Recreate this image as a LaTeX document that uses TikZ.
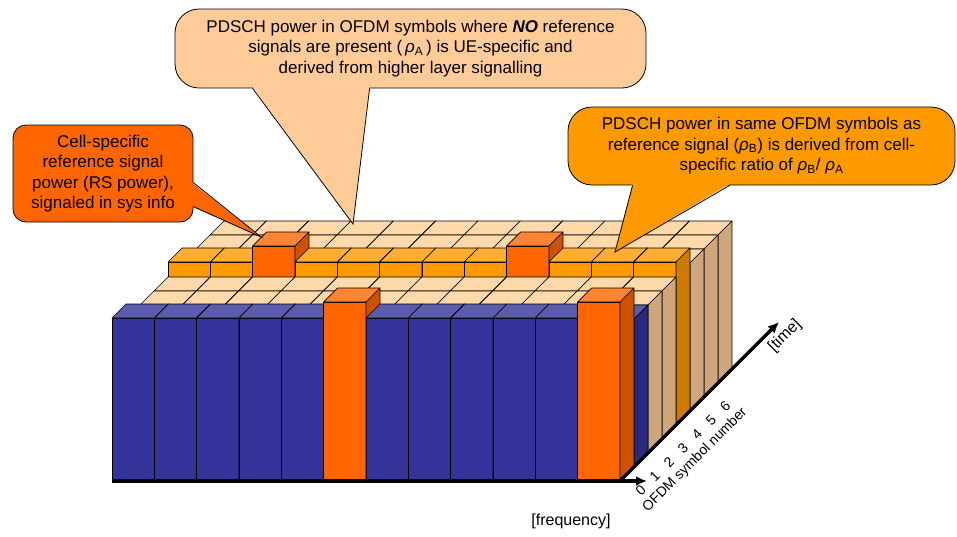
\documentclass[tikz,border=0pt]{standalone}
\usepackage{fontspec}
\setmainfont{Liberation Sans}
\usepackage{xcolor}
\usepackage{tikz}
\usetikzlibrary{arrows.meta,calc}

\definecolor{navyfront}{HTML}{333399}
\definecolor{navytop}{HTML}{5C5CAD}
\definecolor{navyside}{HTML}{2A2A7D}
\definecolor{amberfront}{HTML}{FF9900}
\definecolor{ambertop}{HTML}{FFAD33}
\definecolor{amberside}{HTML}{CC7A00}
\definecolor{rsfront}{HTML}{FF6600}
\definecolor{rstop}{HTML}{FF8533}
\definecolor{rsside}{HTML}{CC5200}
\definecolor{peachfront}{HTML}{E8BE8E}
\definecolor{peachtop}{HTML}{FFD9AA}
\definecolor{peachside}{HTML}{CFA67B}
\definecolor{notefill}{HTML}{FFCC99}

\newcommand{\rhosub}[1]{{\itshape ρ}\textsubscript{#1}}

\newcommand{\barcell}[4]{%
  \pgfmathsetmacro{\cellx}{112+42.33*#1+14*#2}%
  \pgfmathsetmacro{\celly}{481-14*#2}%
  \filldraw[facet, fill=#4front] (\cellx,\celly) rectangle ++(42.33,-#3);
  \filldraw[facet, fill=#4top] (\cellx,\celly-#3) -- ++(42.33,0) -- ++(14,-14) -- ++(-42.33,0) -- cycle;
  \filldraw[facet, fill=#4side] (\cellx+42.33,\celly) -- ++(0,-#3) -- ++(14,-14) -- ++(0,#3) -- cycle;
}

\begin{document}
\begin{tikzpicture}[
  x=1pt, y=-1pt,
  font=\fontsize{17}{20.5}\selectfont,
  facet/.style={draw=black, line width=0.6pt, line join=round},
  note/.style={draw=black, line width=0.8pt, align=center, inner sep=0pt},
  tail/.style={draw=black, line width=0.8pt},
  axis/.style={line width=3.5pt, -{Latex[length=11pt,width=10pt]}},
  symlabel/.style={font=\fontsize{14}{14}\selectfont, rotate=45, inner sep=0pt}
]
\useasboundingbox (0,0) rectangle (957,536);

\foreach \row/\kind/\h/\rsa/\rsb in {7/peach/148/-1/-1, 6/peach/148/-1/-1, 5/peach/148/-1/-1, 4/amber/163/2/8,
    3/peach/148/-1/-1, 2/peach/148/-1/-1, 1/navy/148/-1/-1, 0/navy/163/5/11}
  \foreach \col in {0,...,11} {
    \ifnum\col=\rsa\relax \barcell{\col}{\row}{179}{rs}%
    \else\ifnum\col=\rsb\relax \barcell{\col}{\row}{179}{rs}%
    \else \barcell{\col}{\row}{\h}{\kind}\fi\fi
  }

\coordinate (freqstart) at (112,481);
\coordinate (freqend) at (647,481);
\coordinate (timestart) at (620,481);
\coordinate (timeend) at (779,322);
\draw[axis] (freqstart) -- (freqend);
\draw[axis] (timestart) -- (timeend);

\foreach \k in {0,...,6}
  \node[symlabel] (sym\k) at (640.6+14.1*\k, 490.4-14*\k) {\k};
\node[symlabel] (symaxis) at (695,460) {OFDM symbol number};
\node[font=\fontsize{16}{16}\selectfont, rotate=45, inner sep=0pt] (timelabel) at (785,336) {[time]};
\node[font=\fontsize{16}{16}\selectfont, inner sep=0pt] (freqlabel) at (571,521) {[frequency]};

\node[note, fill=rsfront, minimum width=180pt, minimum height=97pt, rounded corners=13pt] (rsnote) at (103,173.5)
  {Cell-specific\\reference signal\\power (RS power),\\signaled in sys info};
\coordinate (rstip) at (261,237);
\fill[rsfront] ($(rsnote.north east)+(-1.5,58)$) -- (rstip) -- ($(rsnote.north east)+(-1.5,82)$) -- cycle;
\draw[tail] ($(rsnote.north east)+(0,58)$) -- (rstip) -- ($(rsnote.north east)+(0,82)$);

\node[note, fill=notefill, minimum width=471pt, minimum height=79pt, rounded corners=24pt] (nonote) at (410.5,48.5)
  {PDSCH power in OFDM symbols where \textbf{\textit{NO}} reference\\signals are present (\,\rhosub{A}\,) is UE-specific and\\derived from higher layer signalling};
\coordinate (notip) at (353,224);
\fill[notefill] ($(nonote.south west)+(78,-1.5)$) -- (notip) -- ($(nonote.south west)+(195,-1.5)$) -- cycle;
\draw[tail] ($(nonote.south west)+(78,0)$) -- (notip) -- ($(nonote.south west)+(195,0)$);

\node[note, fill=amberfront, minimum width=387pt, minimum height=78pt, rounded corners=24pt] (rhonote) at (761.5,146)
  {PDSCH power in same OFDM symbols as\\reference signal (\rhosub{B}) is derived from cell-\\specific ratio of \rhosub{B}/ \rhosub{A}};
\coordinate (rhotip) at (615,252);
\fill[amberfront] ($(rhonote.south west)+(65,-1.5)$) -- (rhotip) -- ($(rhonote.south west)+(162,-1.5)$) -- cycle;
\draw[tail] ($(rhonote.south west)+(65,0)$) -- (rhotip) -- ($(rhonote.south west)+(162,0)$);
\end{tikzpicture}
\end{document}
